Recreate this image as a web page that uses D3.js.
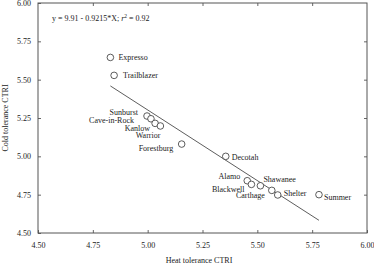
<!DOCTYPE html>
<html>
<head>
<meta charset="utf-8">
<script src="https://cdn.jsdelivr.net/npm/d3@7"></script>
<style>
  body { margin: 0; background: #fff; }
  text { font-family: "Liberation Serif", "DejaVu Serif", serif; fill: #222; }
</style>
</head>
<body>
<div class="chart"></div>
<script>
// chart data
var cultivars = ["Expresso", "Trailblazer", "Sunburst", "Cave-in-Rock", "Kanlow", "Warrior",
  "Forestburg", "Decotah", "Alamo", "Blackwell", "Shawanee", "Carthage", "Shelter", "Summer"];
var heatCTRI = [4.83, 4.847, 4.997, 5.015, 5.034, 5.058, 5.155, 5.356, 5.454, 5.473, 5.514, 5.566, 5.593, 5.781];
var coldCTRI = [5.645, 5.528, 5.263, 5.245, 5.215, 5.198, 5.080, 5.000, 4.841, 4.817, 4.808, 4.778, 4.748, 4.750];
var tickValues = [4.50, 4.75, 5.00, 5.25, 5.50, 5.75, 6.00];
var intercept = 9.91;
var slope = -0.9215;

// label offsets relative to each point: [dx, dy, anchor]
var labelPos = {
  "Expresso": [8, 0, "start"],
  "Trailblazer": [9, 0, "start"],
  "Sunburst": [-9, -4, "end"],
  "Cave-in-Rock": [-17, 1.8, "end"],
  "Kanlow": [-5, 4.7, "end"],
  "Warrior": [0, 9.7, "end"],
  "Forestburg": [-8.5, 4.3, "end"],
  "Decotah": [6, 0.5, "start"],
  "Alamo": [-7, -4.5, "end"],
  "Blackwell": [-7, 4.5, "end"],
  "Shawanee": [3, -6.5, "start"],
  "Carthage": [-7, 4.5, "end"],
  "Shelter": [6, -1.5, "start"],
  "Summer": [5, 2.5, "start"]
};

var svgWidth = 374;
var svgHeight = 265;
var margin = { top: 3, right: 7, bottom: 32, left: 38 };
var width = svgWidth - margin.left - margin.right;
var height = svgHeight - margin.top - margin.bottom;

var svg = d3.select(".chart")
  .append("svg")
  .attr("width", svgWidth)
  .attr("height", svgHeight);

var chartGroup = svg.append("g")
  .attr("transform", `translate(${margin.left}, ${margin.top})`);

var x = d3.scaleLinear().domain([4.5, 6.0]).range([0, width]);
var y = d3.scaleLinear().domain([4.5, 6.0]).range([height, 0]);

var fmt = d3.format(".2f");

// axes with inward ticks
function styleAxis(g) {
  g.select(".domain").remove();
  g.selectAll("line").attr("stroke", "#666");
  g.selectAll("text").style("font-size", "8px").style("font-family", "Liberation Serif");
}

chartGroup.append("g")
  .attr("transform", `translate(0, ${height})`)
  .call(d3.axisBottom(x).tickValues(tickValues).tickFormat(fmt).tickSizeInner(-3).tickSizeOuter(0).tickPadding(9))
  .call(styleAxis);

chartGroup.append("g")
  .call(d3.axisLeft(y).tickValues(tickValues).tickFormat(fmt).tickSizeInner(-3).tickSizeOuter(0).tickPadding(7))
  .call(styleAxis);

chartGroup.append("g")
  .call(d3.axisTop(x).tickValues(tickValues.slice(1, -1)).tickFormat("").tickSizeInner(-3).tickSizeOuter(0))
  .call(styleAxis);

chartGroup.append("g")
  .attr("transform", `translate(${width}, 0)`)
  .call(d3.axisRight(y).tickValues(tickValues.slice(1, -1)).tickFormat("").tickSizeInner(-3).tickSizeOuter(0))
  .call(styleAxis);

// frame
chartGroup.append("rect")
  .attr("width", width)
  .attr("height", height)
  .attr("fill", "none")
  .attr("stroke", "#555")
  .attr("stroke-width", 1);

// regression line across the data range
var xMin = d3.min(heatCTRI);
var xMax = d3.max(heatCTRI);
chartGroup.append("line")
  .attr("x1", x(xMin))
  .attr("y1", y(intercept + slope * xMin))
  .attr("x2", x(xMax))
  .attr("y2", y(intercept + slope * xMax))
  .attr("stroke", "#333")
  .attr("stroke-width", 0.8);

var points = cultivars.map((c, i) => ({ name: c, heat: heatCTRI[i], cold: coldCTRI[i] }));

chartGroup.selectAll("circle")
  .data(points)
  .enter()
  .append("circle")
  .attr("cx", d => x(d.heat))
  .attr("cy", d => y(d.cold))
  .attr("r", 3.3)
  .attr("fill", "#fff")
  .attr("stroke", "#333")
  .attr("stroke-width", 0.8);

chartGroup.selectAll(".pt-label")
  .data(points)
  .enter()
  .append("text")
  .attr("class", "pt-label")
  .attr("x", d => x(d.heat) + labelPos[d.name][0])
  .attr("y", d => y(d.cold) + labelPos[d.name][1])
  .attr("dy", "0.35em")
  .attr("text-anchor", d => labelPos[d.name][2])
  .style("font-size", "8px")
  .text(d => d.name);

// equation
var eq = chartGroup.append("text")
  .attr("x", 14)
  .attr("y", 18)
  .style("font-size", "8px");
eq.append("tspan").text("y = 9.91 - 0.9215*X;  ");
eq.append("tspan").style("font-style", "italic").text("r");
eq.append("tspan").attr("dy", -3).style("font-size", "5.5px").text("2");
eq.append("tspan").attr("dy", 3).text(" = 0.92");

// axis titles
svg.append("text")
  .attr("x", 199)
  .attr("y", 263)
  .attr("text-anchor", "middle")
  .style("font-size", "8px")
  .text("Heat tolerance CTRI");

svg.append("text")
  .attr("transform", `translate(8, ${margin.top + height / 2}) rotate(-90)`)
  .attr("text-anchor", "middle")
  .style("font-size", "8px")
  .text("Cold tolerance CTRI");
</script>
</body>
</html>
